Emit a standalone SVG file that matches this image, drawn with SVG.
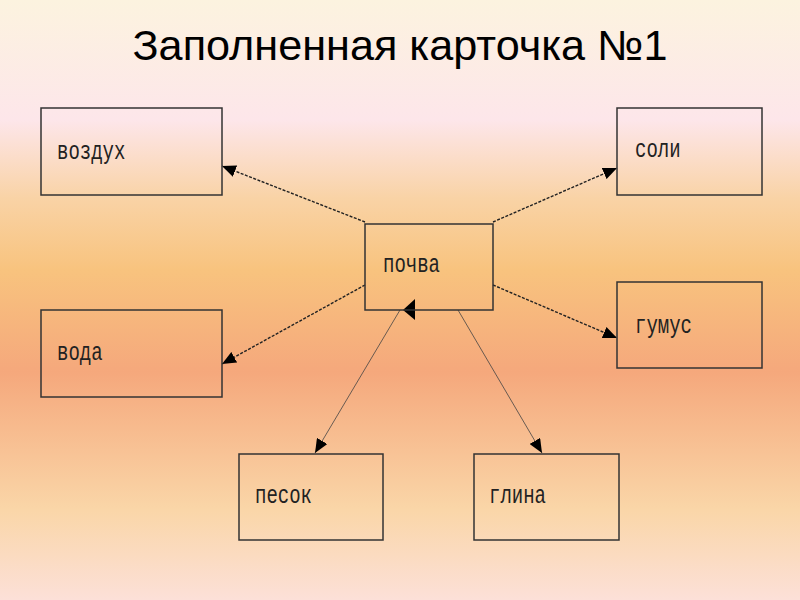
<svg xmlns="http://www.w3.org/2000/svg" width="800" height="600" viewBox="0 0 800 600">
<defs>
<linearGradient id="bg" x1="0" y1="0" x2="0" y2="1">
<stop offset="0" stop-color="#fcf3df"/>
<stop offset="0.2" stop-color="#fde6ea"/>
<stop offset="0.33" stop-color="#f9d3a6"/>
<stop offset="0.45" stop-color="#f8c37e"/>
<stop offset="0.62" stop-color="#f5a87c"/>
<stop offset="0.85" stop-color="#fad6a8"/>
<stop offset="1" stop-color="#fce0d8"/>
</linearGradient>
<marker id="ah" viewBox="0 0 14 12" refX="14" refY="6" markerWidth="14" markerHeight="12" markerUnits="userSpaceOnUse" orient="auto">
<path d="M0,0 L14,6 L0,12 Z" fill="#000"/>
</marker>
<style>
.box{fill:none;stroke:#333;stroke-width:1.5}
.lbl{font-family:"Liberation Mono","DejaVu Sans Mono",monospace;font-size:19px;fill:#222}
.dash{stroke:#222;stroke-width:1.4;stroke-dasharray:3 1.5;fill:none}
.thin{stroke:#444;stroke-width:0.8;fill:none}
</style>
</defs>
<rect width="800" height="600" fill="url(#bg)"/>
<text x="400" y="60" text-anchor="middle" font-family="Liberation Sans, Arial, sans-serif" font-size="42" fill="#000" textLength="535" lengthAdjust="spacingAndGlyphs">Заполненная карточка №1</text>

<g id="connectors">
<line class="dash" x1="365" y1="222" x2="222" y2="166" marker-end="url(#ah)"/>
<line class="dash" x1="493" y1="222" x2="617" y2="168" marker-end="url(#ah)"/>
<line class="dash" x1="365" y1="285" x2="222" y2="364" marker-end="url(#ah)"/>
<line class="dash" x1="493" y1="285" x2="617" y2="338" marker-end="url(#ah)"/>
<line class="thin" x1="400" y1="310" x2="315" y2="453" marker-end="url(#ah)"/>
<line class="thin" x1="458" y1="310" x2="542" y2="453" marker-end="url(#ah)"/>
<path d="M403,310 L415,299 L415,320 Z" fill="#000"/>
</g>

<g id="node-vozdukh"><rect class="box" x="41" y="108" width="181" height="87"/><text class="lbl" transform="translate(57,159) scale(1,1.4)">воздух</text></g>
<g id="node-soli"><rect class="box" x="617" y="108" width="145" height="87"/><text class="lbl" transform="translate(635,157) scale(1,1.4)">соли</text></g>
<g id="node-pochva"><rect class="box" x="365" y="224" width="128" height="86"/><text class="lbl" transform="translate(383,272) scale(1,1.4)">почва</text></g>
<g id="node-voda"><rect class="box" x="41" y="310" width="181" height="87"/><text class="lbl" transform="translate(57,360) scale(1,1.4)">вода</text></g>
<g id="node-gumus"><rect class="box" x="617" y="282" width="145" height="86"/><text class="lbl" transform="translate(635,333) scale(1,1.4)">гумус</text></g>
<g id="node-pesok"><rect class="box" x="239" y="454" width="144" height="86"/><text class="lbl" transform="translate(255,503) scale(1,1.4)">песок</text></g>
<g id="node-glina"><rect class="box" x="474" y="454" width="145" height="86"/><text class="lbl" transform="translate(489,503) scale(1,1.4)">глина</text></g>
</svg>
